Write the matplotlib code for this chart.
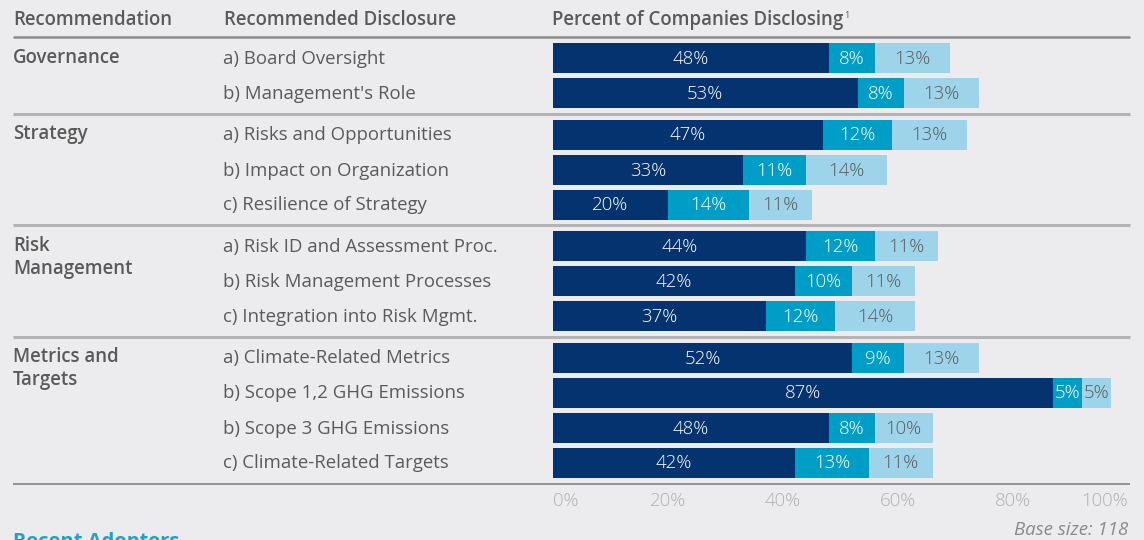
import numpy as np
import matplotlib.pyplot as plt

plt.rcParams['font.family'] = ['Open Sans', 'DejaVu Sans']

groups = ['Governance', 'Strategy', 'Risk\nManagement', 'Metrics and\nTargets']
group_sizes = [2, 3, 3, 4]
disclosures = [
    'a) Board Oversight', "b) Management's Role",
    'a) Risks and Opportunities', 'b) Impact on Organization', 'c) Resilience of Strategy',
    'a) Risk ID and Assessment Proc.', 'b) Risk Management Processes', 'c) Integration into Risk Mgmt.',
    'a) Climate-Related Metrics', 'b) Scope 1,2 GHG Emissions', 'b) Scope 3 GHG Emissions',
    'c) Climate-Related Targets',
]
dark = [48, 53, 47, 33, 20, 44, 42, 37, 52, 87, 48, 42]
mid = [8, 8, 12, 11, 14, 12, 10, 12, 9, 5, 8, 13]
light = [13, 13, 13, 14, 11, 11, 11, 14, 13, 5, 10, 11]
ticks = [0, 20, 40, 60, 80, 100]

c_dark = '#05336f'
c_mid = '#009ec7'
c_light = '#9dd4e9'
c_bg = '#ececee'
c_text = '#5a5a5a'
c_line = '#8c8c8c'

W, H = 1144, 540
fig = plt.figure(figsize=(W / 100, H / 100), dpi=100, facecolor=c_bg)

# overlay in pixel units for labels and rules
ov = fig.add_axes([0, 0, 1, 1])
ov.set_xlim(0, W)
ov.set_ylim(H, 0)
ov.axis('off')

# bar axes: x in percent, y in pixels
x0, x1 = 553, 1128
ax = fig.add_axes([x0 / W, 0, (x1 - x0) / W, 1])
ax.set_xlim(0, 100)
ax.set_ylim(H, 0)
ax.axis('off')
ax.patch.set_alpha(0)

# row centres: 35 px per row, a bit more between groups
ys = []
y = 58
for gi, n in enumerate(group_sizes):
    for k in range(n):
        ys.append(y)
        y += 35
    y += 6.5
ys = np.array(ys)
bh = 30

fs = 13.4
ax.barh(ys, dark, height=bh, color=c_dark)
ax.barh(ys, mid, left=dark, height=bh, color=c_mid)
ax.barh(ys, light, left=np.add(dark, mid), height=bh, color=c_light)

for i in range(len(ys)):
    d, m, l = dark[i], mid[i], light[i]
    yy = ys[i] + 1
    ax.text(d / 2, yy, f'{d}%', ha='center', va='center', color='white', fontsize=fs, fontweight='light')
    ax.text(d + m / 2, yy, f'{m}%', ha='center', va='center', color='white', fontsize=fs, fontweight='light')
    ax.text(d + m + l / 2, yy, f'{l}%', ha='center', va='center', color=c_text, fontsize=fs, fontweight='light')
    ov.text(223, yy, disclosures[i], ha='left', va='center', color=c_text, fontsize=fs)

# group labels and separators
start = 0
for g, n in zip(groups, group_sizes):
    for k, line in enumerate(g.split('\n')):
        ov.text(13, ys[start] + 23 * k, line, ha='left', va='center', color=c_text,
                fontsize=fs, fontweight='semibold')
    start += n
    if start < len(ys):
        sep = (ys[start - 1] + ys[start]) / 2
        ov.plot([13, 1130], [sep, sep], color='#b4b4b6', lw=2.2, solid_capstyle='butt')

ov.plot([13, 1130], [37, 37], color=c_line, lw=1.8, solid_capstyle='butt')
ov.plot([13, 1130], [484, 484], color=c_line, lw=1.3, solid_capstyle='butt')

# header
ov.text(13, 20, 'Recommendation', ha='left', va='center', color=c_text, fontsize=fs, fontweight='semibold')
ov.text(224, 20, 'Recommended Disclosure', ha='left', va='center', color=c_text, fontsize=fs, fontweight='semibold')
hdr = ov.text(552, 20, 'Percent of Companies Disclosing', ha='left', va='center',
              color=c_text, fontsize=fs, fontweight='semibold')
ov.annotate('1', xy=(1, 1), xycoords=hdr, xytext=(1, -1), textcoords='offset points',
            ha='left', va='top', color=c_text, fontsize=6.5)

# x tick labels
for t in ticks:
    ha = 'left' if t == 0 else ('right' if t == 100 else 'center')
    ax.text(t, 501, f'{t}%', ha=ha, va='center', color='#b0b0b2', fontsize=fs, fontweight='light')

ov.text(1128, 530, 'Base size: 118', ha='right', va='center', color='#8a8a8a',
        fontsize=fs, style='italic')
ov.text(13, 542, 'Recent Adopters', ha='left', va='center', color='#1aa3d1',
        fontsize=14.5, fontweight='bold')

fig.savefig('out.png', dpi=100, facecolor=c_bg)
